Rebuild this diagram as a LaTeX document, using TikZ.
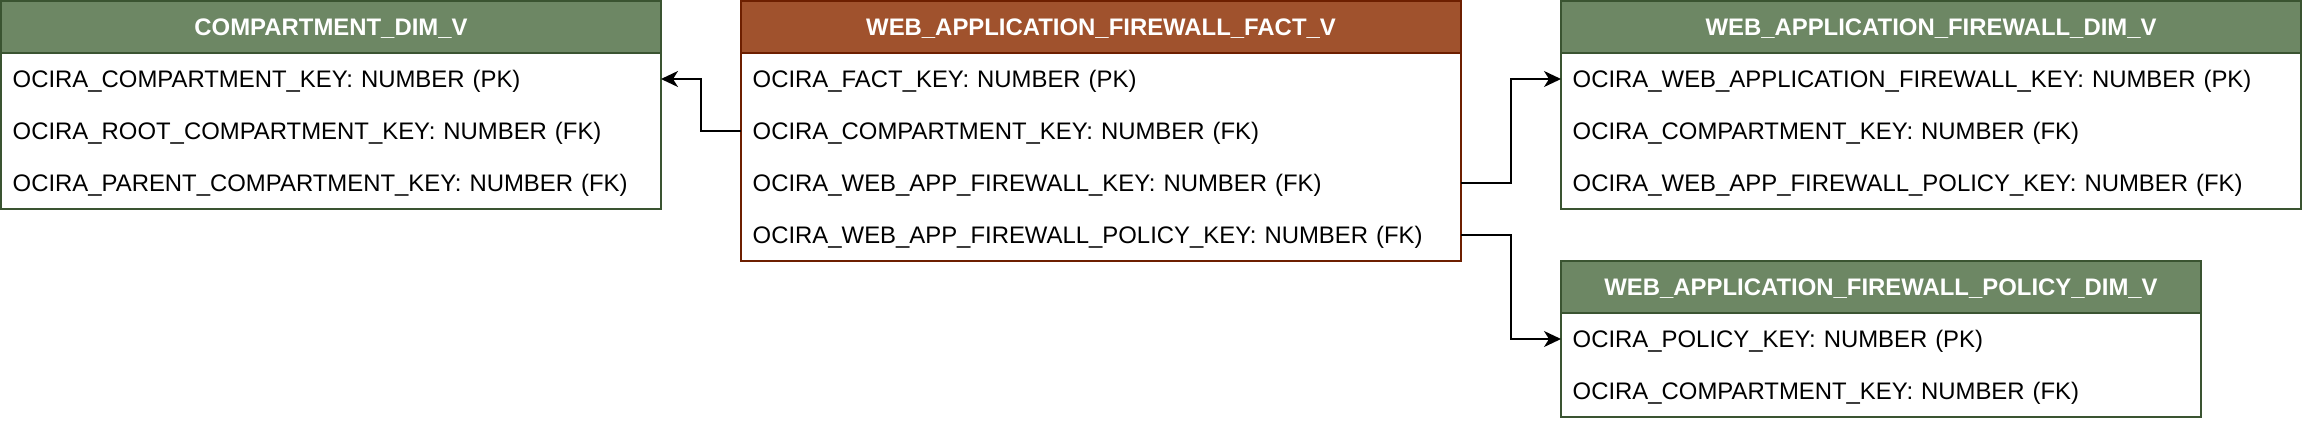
\documentclass[tikz,border=0pt]{standalone}
\usepackage{fontspec}
\setmainfont{Liberation Sans}
\usetikzlibrary{arrows.meta}
\definecolor{gfill}{HTML}{6D8764}
\definecolor{gline}{HTML}{3A5431}
\definecolor{bfill}{HTML}{A0522D}
\definecolor{bline}{HTML}{6D1F00}
\newcommand{\rowtext}[1]{\raisebox{-2.5pt}[\height][\depth]{#1}}
\newcommand{\headtext}[1]{\raisebox{-1.5pt}[\height][\depth]{#1}}
\begin{document}
\begin{tikzpicture}[x=1pt,y=-1pt,
  tframe/.style={draw, line width=1.5pt, fill=white, anchor=north west, inner sep=0pt, outer sep=0pt},
  thead/.style={draw, line width=1.5pt, anchor=north west, inner sep=0pt, outer sep=0pt,
    minimum height=52pt, text=white, font=\fontsize{23.9}{28}\selectfont\bfseries},
  trow/.style={anchor=north west, inner xsep=11.7pt, inner ysep=0pt, outer sep=0pt,
    minimum height=52pt, align=left, font=\fontsize{23.9}{28}\selectfont},
  conn/.style={line width=1.8pt, -{Stealth[length=17pt,width=16pt,inset=5pt]}}
]
\useasboundingbox (0,0) rectangle (2302,424);

% COMPARTMENT_DIM_V
\node[tframe, draw=gline, minimum width=660pt, minimum height=208pt] (ct) at (1,1) {};
\node[thead, draw=gline, fill=gfill, minimum width=660pt] (ch) at (1,1) {\headtext{COMPARTMENT\_DIM\_V}};
\node[trow, text width=636.6pt] (c1) at (1,53) {\rowtext{OCIRA\_COMPARTMENT\_KEY: NUMBER (PK)}};
\node[trow, text width=636.6pt] (c2) at (1,105) {\rowtext{OCIRA\_ROOT\_COMPARTMENT\_KEY: NUMBER (FK)}};
\node[trow, text width=636.6pt] (c3) at (1,157) {\rowtext{OCIRA\_PARENT\_COMPARTMENT\_KEY: NUMBER (FK)}};

% WEB_APPLICATION_FIREWALL_FACT_V
\node[tframe, draw=bline, minimum width=720pt, minimum height=260pt] (ft) at (741,1) {};
\node[thead, draw=bline, fill=bfill, minimum width=720pt] (fh) at (741,1) {\headtext{WEB\_APPLICATION\_FIREWALL\_FACT\_V}};
\node[trow, text width=696.6pt] (f1) at (741,53) {\rowtext{OCIRA\_FACT\_KEY: NUMBER (PK)}};
\node[trow, text width=696.6pt] (f2) at (741,105) {\rowtext{OCIRA\_COMPARTMENT\_KEY: NUMBER (FK)}};
\node[trow, text width=696.6pt] (f3) at (741,157) {\rowtext{OCIRA\_WEB\_APP\_FIREWALL\_KEY: NUMBER (FK)}};
\node[trow, text width=696.6pt] (f4) at (741,209) {\rowtext{OCIRA\_WEB\_APP\_FIREWALL\_POLICY\_KEY: NUMBER (FK)}};

% WEB_APPLICATION_FIREWALL_DIM_V
\node[tframe, draw=gline, minimum width=740pt, minimum height=208pt] (wt) at (1561,1) {};
\node[thead, draw=gline, fill=gfill, minimum width=740pt] (wh) at (1561,1) {\headtext{WEB\_APPLICATION\_FIREWALL\_DIM\_V}};
\node[trow, text width=716.6pt] (w1) at (1561,53) {\rowtext{OCIRA\_WEB\_APPLICATION\_FIREWALL\_KEY: NUMBER (PK)}};
\node[trow, text width=716.6pt] (w2) at (1561,105) {\rowtext{OCIRA\_COMPARTMENT\_KEY: NUMBER (FK)}};
\node[trow, text width=716.6pt] (w3) at (1561,157) {\rowtext{OCIRA\_WEB\_APP\_FIREWALL\_POLICY\_KEY: NUMBER (FK)}};

% WEB_APPLICATION_FIREWALL_POLICY_DIM_V
\node[tframe, draw=gline, minimum width=640pt, minimum height=156pt] (pt) at (1561,261) {};
\node[thead, draw=gline, fill=gfill, minimum width=640pt] (ph) at (1561,261) {\headtext{WEB\_APPLICATION\_FIREWALL\_POLICY\_DIM\_V}};
\node[trow, text width=616.6pt] (p1) at (1561,313) {\rowtext{OCIRA\_POLICY\_KEY: NUMBER (PK)}};
\node[trow, text width=616.6pt] (p2) at (1561,365) {\rowtext{OCIRA\_COMPARTMENT\_KEY: NUMBER (FK)}};

% connectors
\draw[conn] (f2.west) -- ++(-40,0) |- (c1.east);
\draw[conn] (f3.east) -- ++(50,0) |- (w1.west);
\draw[conn] (f4.east) -- ++(50,0) |- (p1.west);
\end{tikzpicture}
\end{document}
